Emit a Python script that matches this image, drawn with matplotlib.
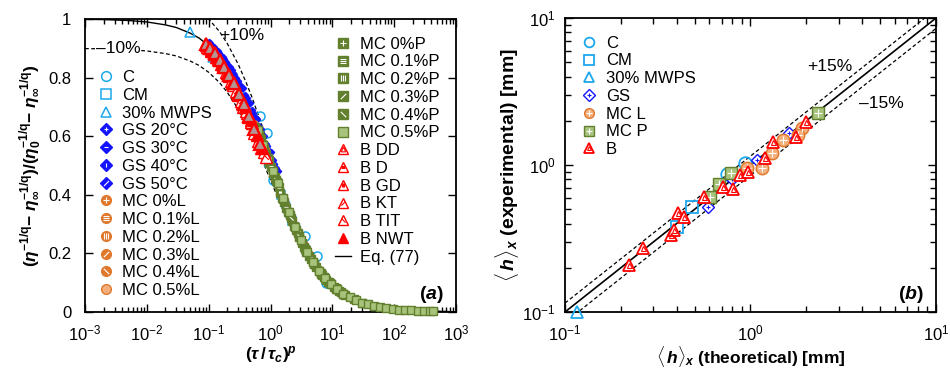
import matplotlib
matplotlib.use('Agg')
import matplotlib.pyplot as plt
from matplotlib.lines import Line2D
from matplotlib.path import Path
from matplotlib.ticker import NullFormatter, FixedLocator, FixedFormatter

plt.rcParams['font.family'] = ['Liberation Sans', 'DejaVu Sans']
plt.rcParams['mathtext.fontset'] = 'custom'
plt.rcParams['mathtext.rm'] = 'Liberation Sans'
plt.rcParams['mathtext.it'] = 'Liberation Sans:italic'
plt.rcParams['mathtext.bf'] = 'Liberation Sans:bold'
plt.rcParams['mathtext.bfit'] = 'Liberation Sans:italic:bold'

# ---------------- panel (a) data ----------------
eq_x = [0.001, 0.002, 0.005, 0.01, 0.02, 0.03, 0.05, 0.07, 0.1, 0.15, 0.2, 0.3, 0.4, 0.5, 0.7,
        1, 1.5, 2, 3, 4, 5, 7, 10, 15, 20, 30, 50, 70, 100, 200, 300, 500, 1000]
eq_y = [0.999, 0.998, 0.995, 0.990, 0.980, 0.971, 0.952, 0.935, 0.909, 0.870, 0.833, 0.769, 0.714,
        0.667, 0.588, 0.500, 0.400, 0.333, 0.250, 0.200, 0.167, 0.125, 0.091, 0.0625, 0.048, 0.032,
        0.020, 0.014, 0.010, 0.005, 0.0033, 0.002, 0.001]

C_x = [0.68, 0.88, 1.1, 1.7, 2.5, 3.6, 5.6, 7.8]
C_y = [0.67, 0.61, 0.45, 0.37, 0.29, 0.26, 0.19, 0.10]
CM_x = [0.25, 0.40, 0.60, 0.95, 1.5, 2.2]
CM_y = [0.80, 0.71, 0.62, 0.51, 0.40, 0.31]
MWPS_x = [0.05, 0.117, 0.21, 0.34]
MWPS_y = [0.955, 0.87, 0.82, 0.74]

GS20_x = [0.10, 0.13, 0.17, 0.22, 0.28, 0.36, 0.46, 0.60, 0.78, 1.00, 1.30]
GS20_y = [0.92, 0.895, 0.87, 0.835, 0.80, 0.765, 0.715, 0.66, 0.60, 0.545, 0.48]
GS30_x = [0.11, 0.145, 0.19, 0.25, 0.32, 0.41, 0.53, 0.69, 0.89, 1.15]
GS30_y = [0.912, 0.885, 0.855, 0.815, 0.775, 0.73, 0.68, 0.625, 0.565, 0.505]
GS40_x = [0.12, 0.155, 0.2, 0.26, 0.34, 0.44, 0.57, 0.74, 0.95, 1.22]
GS40_y = [0.905, 0.878, 0.847, 0.81, 0.765, 0.715, 0.665, 0.605, 0.55, 0.49]
GS50_x = [0.105, 0.14, 0.18, 0.235, 0.30, 0.39, 0.50, 0.65, 0.84, 1.08]
GS50_y = [0.917, 0.89, 0.862, 0.825, 0.787, 0.74, 0.69, 0.635, 0.575, 0.52]

MCL0_x = [0.55, 0.8, 1.2, 1.8, 2.7, 4.0, 6.0, 9.0]
MCL0_y = [0.64, 0.555, 0.455, 0.355, 0.27, 0.20, 0.143, 0.10]
MCL1_x = [0.6, 0.9, 1.35, 2.0, 3.0, 4.5, 6.8]
MCL1_y = [0.62, 0.525, 0.425, 0.335, 0.25, 0.182, 0.128]
MCL2_x = [0.65, 1.0, 1.5, 2.2, 3.3, 5.0, 7.5]
MCL2_y = [0.605, 0.50, 0.40, 0.31, 0.235, 0.168, 0.118]
MCL3_x = [0.7, 1.05, 1.6, 2.4, 3.6, 5.4]
MCL3_y = [0.59, 0.49, 0.385, 0.295, 0.218, 0.156]
MCL4_x = [0.75, 1.1, 1.7, 2.6, 3.9, 5.8]
MCL4_y = [0.57, 0.48, 0.37, 0.28, 0.205, 0.148]
MCL5_x = [0.58, 0.85, 1.25, 1.9, 2.9, 4.3, 6.4]
MCL5_y = [0.63, 0.54, 0.445, 0.345, 0.258, 0.19, 0.135]

MCP0_x = [0.56, 0.72, 0.95, 1.25, 1.65, 2.2, 2.9, 3.8, 5.0, 6.6, 8.7, 11.5, 15]
MCP0_y = [0.63, 0.575, 0.51, 0.445, 0.375, 0.31, 0.255, 0.205, 0.165, 0.13, 0.102, 0.08, 0.062]
MCP1_x = [0.6, 0.78, 1.02, 1.35, 1.8, 2.4, 3.2, 4.2, 5.5, 7.3, 9.6, 12.7]
MCP1_y = [0.62, 0.56, 0.495, 0.425, 0.355, 0.295, 0.235, 0.19, 0.152, 0.12, 0.094, 0.073]
MCP2_x = [0.64, 0.84, 1.1, 1.45, 1.95, 2.6, 3.5, 4.6, 6.1, 8.0, 10.5, 14]
MCP2_y = [0.605, 0.54, 0.475, 0.405, 0.34, 0.28, 0.222, 0.18, 0.14, 0.11, 0.087, 0.067]
MCP3_x = [0.68, 0.9, 1.18, 1.55, 2.05, 2.75, 3.65, 4.9, 6.5, 8.6, 11.3, 15]
MCP3_y = [0.595, 0.525, 0.46, 0.39, 0.33, 0.268, 0.215, 0.17, 0.133, 0.104, 0.082, 0.063]
MCP4_x = [0.7, 0.93, 1.22, 1.6, 2.15, 2.85, 3.8, 5.1, 6.8, 9.0, 12, 16, 22, 30]
MCP4_y = [0.59, 0.52, 0.45, 0.385, 0.32, 0.26, 0.21, 0.165, 0.128, 0.1, 0.077, 0.059, 0.044, 0.032]
MCP5_x = [0.62, 0.75, 0.9, 1.1, 1.3, 1.6, 2.0, 2.5, 3.1, 3.9, 4.9, 6.1, 7.7, 9.6, 12, 15, 19, 24,
          30, 38, 48, 60, 75, 95, 120, 150, 190, 240, 300, 380, 430]
MCP5_y = [0.62, 0.57, 0.52, 0.48, 0.44, 0.39, 0.34, 0.29, 0.245, 0.205, 0.17, 0.14, 0.115, 0.095,
          0.078, 0.063, 0.050, 0.040, 0.032, 0.026, 0.020, 0.016, 0.013, 0.010, 0.008, 0.0066,
          0.0052, 0.0041, 0.0033, 0.0026, 0.0023]

BDD_x = [0.09, 0.105, 0.125, 0.15, 0.18, 0.215, 0.26, 0.31, 0.37, 0.45, 0.55, 0.68]
BDD_y = [0.915, 0.90, 0.885, 0.86, 0.835, 0.81, 0.78, 0.745, 0.71, 0.67, 0.625, 0.575]
BD_x = [0.095, 0.115, 0.14, 0.17, 0.2, 0.24, 0.29, 0.35, 0.42, 0.5]
BD_y = [0.905, 0.89, 0.865, 0.84, 0.815, 0.785, 0.75, 0.715, 0.68, 0.645]
BGD_x = [0.1, 0.12, 0.145, 0.175, 0.21, 0.25, 0.3, 0.36, 0.43]
BGD_y = [0.9, 0.88, 0.86, 0.835, 0.805, 0.775, 0.74, 0.70, 0.665]
BKT_x = [0.11, 0.13, 0.16, 0.19, 0.23, 0.28, 0.33, 0.4, 0.48, 0.58]
BKT_y = [0.89, 0.87, 0.845, 0.82, 0.79, 0.755, 0.72, 0.685, 0.65, 0.61]
BTIT_x = [0.55, 0.62, 0.7, 0.78, 0.85]
BTIT_y = [0.61, 0.585, 0.56, 0.545, 0.53]
BNWT_x = [0.092, 0.11, 0.135, 0.165, 0.2, 0.24, 0.3, 0.38, 0.48, 0.6, 0.72]
BNWT_y = [0.91, 0.895, 0.87, 0.845, 0.815, 0.78, 0.745, 0.70, 0.655, 0.605, 0.56]

yticks_a = [0, 0.2, 0.4, 0.6, 0.8, 1]
ylabels_a = ['0', '0.2', '0.4', '0.6', '0.8', '1']

# ---------------- panel (b) data ----------------
bC_x = [0.934, 0.745]
bC_y = [1.04, 0.869]
bCM_x = [0.484, 0.40]
bCM_y = [0.521, 0.377]
bMW_x = [0.116]
bMW_y = [0.1]
bGS_x = [0.593, 0.80, 1.08, 1.62]
bGS_y = [0.521, 0.81, 1.08, 1.64]
bMCL_x = [1.90, 1.80, 1.49, 1.30, 1.15, 0.953]
bMCL_y = [1.78, 1.60, 1.48, 1.21, 0.95, 0.96]
bMCP_x = [2.32, 0.79, 0.68, 0.605]
bMCP_y = [2.26, 0.887, 0.743, 0.61]
bB_x = [0.221, 0.262, 0.372, 0.388, 0.408, 0.44, 0.561, 0.714, 0.808, 0.878, 0.973, 1.20, 1.33, 1.76, 1.99]
bB_y = [0.209, 0.272, 0.335, 0.362, 0.470, 0.446, 0.604, 0.705, 0.687, 0.855, 0.90, 1.11, 1.44, 1.56, 1.95]
diag = [0.1, 10]

# ---------------- styles ----------------
CY = '#1ca8ec'
BL = '#1414ff'
OR = '#e0782c'
ORL = '#f3b07c'
GR = '#62802e'
GRL = '#a8c47c'
RD = '#ff0000'

M, L = Path.MOVETO, Path.LINETO
slash = Path([(-1, -1), (1, 1)], [M, L])
back = Path([(-1, 1), (1, -1)], [M, L])
hl = Path([(-1, -0.6), (1, -0.6), (-1, 0), (1, 0), (-1, 0.6), (1, 0.6)], [M, L, M, L, M, L])
vl = Path([(-0.6, -1), (-0.6, 1), (0, -1), (0, 1), (0.6, -1), (0.6, 1)], [M, L, M, L, M, L])


def st(marker, ec, fc, inner=None, ic='white', s=0.55, mew=1.0):
    out = [dict(marker=marker, mec=ec, mfc=fc, mew=mew)]
    if inner is not None:
        out.append(dict(marker=inner, mec=ic, mfc='none', mew=0.8, s=s))
    return out


def draw(ax, x, y, style, ms, z=3):
    for d in style:
        d = dict(d)
        s = d.pop('s', 1.0)
        ax.plot(x, y, ls='none', ms=ms * s, zorder=z, clip_on=False, **d)


def proxy(style, ms):
    hs = []
    for d in style:
        d = dict(d)
        s = d.pop('s', 1.0)
        hs.append(Line2D([], [], ls='none', ms=ms * s, **d))
    return tuple(hs)


fig = plt.figure(figsize=(9.5, 3.73), dpi=100)
axa = fig.add_axes([0.0895, 0.1635, 0.3905, 0.7855])
axb = fig.add_axes([0.5947, 0.1635, 0.3905, 0.7880])

# ---------------- panel (a) ----------------
sC = st('o', CY, 'none', mew=1.1)
sCM = st('s', CY, 'none', mew=1.1)
sMW = st('^', CY, 'none', mew=1.1)
sGS = [st('D', BL, BL, '+'), st('D', BL, BL, '_'), st('D', BL, BL, '|'), st('D', BL, BL, slash)]
sMCL = [st('o', OR, OR, '+'), st('o', OR, OR, hl), st('o', OR, OR, vl),
        st('o', OR, OR, slash), st('o', OR, OR, back), st('o', OR, ORL)]
sMCP = [st('s', GR, GR, '+'), st('s', GR, GR, hl), st('s', GR, GR, vl),
        st('s', GR, GR, slash), st('s', GR, GR, back), st('s', GR, GRL)]
sB = [st('^', RD, 'white', '^', ic=RD, s=0.45), st('^', RD, 'white', hl, ic=RD, s=0.4),
      st('^', RD, 'white', vl, ic=RD, s=0.4), st('^', RD, 'white', slash, ic=RD, s=0.4),
      st('^', RD, 'white', back, ic=RD, s=0.4), st('^', RD, RD)]
sBDD_plot = st('^', RD, '#b49494', mew=1.6)

axa.plot(eq_x, eq_y, color='black', lw=1.0, zorder=2)
axa.plot(eq_x, [v * 1.1 for v in eq_y], color='black', lw=0.9, ls=(0, (3, 2)), zorder=2)
axa.plot(eq_x, [v * 0.9 for v in eq_y], color='black', lw=0.9, ls=(0, (3, 2)), zorder=2)

draw(axa, C_x, C_y, sC, 6.5)
draw(axa, CM_x, CM_y, sCM, 6)
draw(axa, MWPS_x, MWPS_y, sMW, 7)
for (gx, gy), s in zip([(GS20_x, GS20_y), (GS30_x, GS30_y), (GS40_x, GS40_y), (GS50_x, GS50_y)], sGS):
    draw(axa, gx, gy, [s[0]], 3.2, z=4)
mcl = [(MCL0_x, MCL0_y), (MCL1_x, MCL1_y), (MCL2_x, MCL2_y), (MCL3_x, MCL3_y),
       (MCL4_x, MCL4_y), (MCL5_x, MCL5_y)]
for (mx, my), s in zip(mcl, sMCL):
    draw(axa, mx, my, s, 5.5, z=4)
mcp = [(MCP0_x, MCP0_y), (MCP1_x, MCP1_y), (MCP2_x, MCP2_y), (MCP3_x, MCP3_y),
       (MCP4_x, MCP4_y), (MCP5_x, MCP5_y)]
for (mx, my), s in zip(mcp, sMCP):
    draw(axa, mx, my, s, 5.5, z=5)
bser = [(BD_x, BD_y), (BGD_x, BGD_y), (BKT_x, BKT_y), (BTIT_x, BTIT_y), (BNWT_x, BNWT_y)]
for (bx, by), s in zip(bser, sB[1:]):
    draw(axa, bx, by, s, 8.5, z=6)
draw(axa, BDD_x, BDD_y, sBDD_plot, 8.5, z=7)

axa.set_xscale('log')
axa.set_xlim(1e-3, 1e3)
axa.set_ylim(0, 1)
axa.yaxis.set_major_locator(FixedLocator(yticks_a))
axa.yaxis.set_major_formatter(FixedFormatter(ylabels_a))
axa.xaxis.set_minor_formatter(NullFormatter())
axa.tick_params(which='both', direction='in', top=True, right=True, labelsize=12, width=1)
axa.tick_params(which='major', length=6)
axa.tick_params(which='minor', length=3.5)
axa.tick_params(axis='x', pad=8)
axa.tick_params(axis='y', pad=10)
for sp in axa.spines.values():
    sp.set_linewidth(1.3)

axa.set_xlabel(r'$\mathbf{(}\mathbfit{\tau}\mathbf{\,/\,}\mathbfit{\tau}_{\mathbfit{c}}\mathbf{)}^{\mathbfit{p}}$',
               fontsize=12.5, labelpad=1)
axa.set_ylabel(r'$\mathbf{(}\mathbfit{\eta}^{\mathbf{-1/q}}\mathbf{-\ }\mathbfit{\eta}_{\mathbf{\infty}}^{\mathbf{-1/q}}'
               r'\mathbf{)/(}\mathbfit{\eta}_{\mathbf{0}}^{\mathbf{-1/q}}\mathbf{-\ }'
               r'\mathbfit{\eta}_{\mathbf{\infty}}^{\mathbf{-1/q}}\mathbf{)}$', fontsize=12.5, labelpad=3)

axa.text(0.423, 0.945, '+10%', transform=axa.transAxes, ha='center', va='center', fontsize=12.5)
axa.text(0.089, 0.898, '\u201310%', transform=axa.transAxes, ha='center', va='center', fontsize=12.5,
         bbox=dict(facecolor='white', edgecolor='none', pad=0.5), zorder=3)
axa.text(0.968, 0.025, r'$\mathbf{(}\mathbfit{a}\mathbf{)}$', transform=axa.transAxes,
         ha='right', va='bottom', fontsize=14)

lab1 = ['C', 'CM', '30% MWPS', 'GS 20\u00b0C', 'GS 30\u00b0C', 'GS 40\u00b0C', 'GS 50\u00b0C',
        'MC 0%L', 'MC 0.1%L', 'MC 0.2%L', 'MC 0.3%L', 'MC 0.4%L', 'MC 0.5%L']
h1 = [proxy(sC, 7), proxy(sCM, 7), proxy(sMW, 7)] + [proxy(s, 6.5) for s in sGS] + \
     [proxy(s, 7) for s in sMCL]
lab2 = ['MC 0%P', 'MC 0.1%P', 'MC 0.2%P', 'MC 0.3%P', 'MC 0.4%P', 'MC 0.5%P',
        'B DD', 'B D', 'B GD', 'B KT', 'B TIT', 'B NWT', 'Eq. (77)']
h2 = [proxy(s, 7) for s in sMCP] + [proxy(s, 7.5) for s in sB] + \
     [Line2D([], [], color='black', lw=1.0)]

kw = dict(frameon=False, fontsize=12, handlelength=0.95, handletextpad=0.5, labelspacing=0.165,
          borderpad=0, borderaxespad=0, numpoints=1)
leg1 = axa.legend(h1, lab1, loc='upper left', bbox_to_anchor=(0.034, 0.826), **kw)
axa.add_artist(leg1)
axa.legend(h2, lab2, loc='upper left', bbox_to_anchor=(0.675, 0.94), **kw)

# ---------------- panel (b) ----------------
axb.plot(diag, diag, color='black', lw=1.2, zorder=2)
axb.plot(diag, [v * 1.15 for v in diag], color='black', lw=0.9, ls=(0, (3, 2)), zorder=2)
axb.plot(diag, [v * 0.85 for v in diag], color='black', lw=0.9, ls=(0, (3, 2)), zorder=2)

tbC = st('o', CY, 'none', mew=1.3)
tbCM = st('s', CY, 'none', mew=1.3)
tbMW = st('^', CY, 'none', mew=1.3)
tbGS = st('D', BL, 'white', '+', ic=BL, s=0.5)
tbMCL = st('o', OR, ORL, '+', ic='white', s=0.6)
tbMCP = st('s', GR, GRL, '+', ic='white', s=0.6)
tbB = st('^', RD, 'white', '^', ic=RD, s=0.4, mew=1.3)

draw(axb, bC_x, bC_y, tbC, 9)
draw(axb, bCM_x, bCM_y, tbCM, 9)
draw(axb, bMW_x, bMW_y, tbMW, 9)
draw(axb, bGS_x, bGS_y, tbGS, 6.5)
draw(axb, bMCL_x, bMCL_y, tbMCL, 9)
draw(axb, bMCP_x, bMCP_y, tbMCP, 8.5)
draw(axb, bB_x, bB_y, tbB, 9)

axb.set_xscale('log')
axb.set_yscale('log')
axb.set_xlim(0.1, 10)
axb.set_ylim(0.1, 10)
axb.xaxis.set_minor_formatter(NullFormatter())
axb.yaxis.set_minor_formatter(NullFormatter())
axb.tick_params(which='both', direction='in', top=True, right=True, labelsize=12, width=1)
axb.tick_params(which='major', length=6)
axb.tick_params(which='minor', length=4)
axb.tick_params(axis='x', pad=8)
axb.tick_params(axis='y', pad=7)
for sp in axb.spines.values():
    sp.set_linewidth(1.3)

axb.set_xlabel(r'$\mathbf{\langle}\,\mathbfit{h}\mathbf{\rangle}_{\mathbfit{x}}$ (theoretical) [mm]',
               fontsize=12.5, fontweight='bold', labelpad=1)
axb.set_ylabel(r'$\mathbf{\langle}\,\mathbfit{h}\mathbf{\rangle}_{\mathbfit{x}}$ (experimental) [mm]',
               fontsize=14, fontweight='bold', labelpad=1)
axb.text(0.714, 0.837, '+15%', transform=axb.transAxes, ha='center', va='center', fontsize=12.5)
axb.text(0.854, 0.711, '\u201315%', transform=axb.transAxes, ha='center', va='center', fontsize=12.5)
axb.text(0.968, 0.025, r'$\mathbf{(}\mathbfit{b}\mathbf{)}$', transform=axb.transAxes,
         ha='right', va='bottom', fontsize=14)

lab3 = ['C', 'CM', '30% MWPS', 'GS', 'MC L', 'MC P', 'B']
h3 = [proxy(tbC, 7), proxy(tbCM, 7), proxy(tbMW, 7), proxy(tbGS, 6),
      proxy(tbMCL, 7), proxy(tbMCP, 7), proxy(tbB, 7)]
axb.legend(h3, lab3, loc='upper left', bbox_to_anchor=(0.0445, 0.94), **kw)

fig.savefig('out.png', dpi=100)
